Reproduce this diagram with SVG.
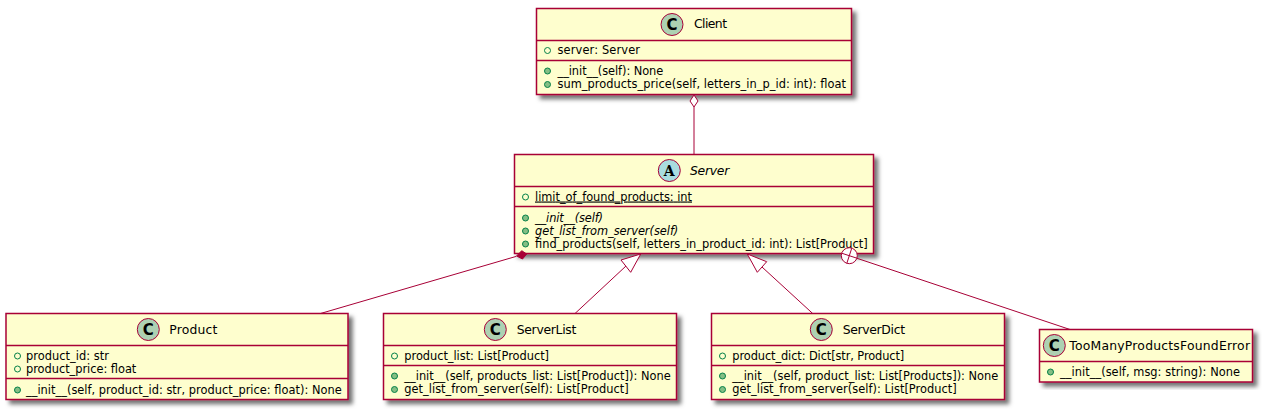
<svg xmlns="http://www.w3.org/2000/svg" width="1262" height="409" viewBox="0 0 1262 409">
<style>
text{font-family:"DejaVu Sans",sans-serif;fill:#000}
.m{font-size:11.400px}
.t{font-size:12.400px}
.i{font-style:italic}
.u{text-decoration:underline}
.b{fill:#FEFECE;stroke:#A80036;stroke-width:1.5;filter:url(#s)}
.d{stroke:#A80036;stroke-width:1.5;fill:none}
.c{fill:#ADD1B2;stroke:#A80036;stroke-width:1}
.a{fill:#A9DCDF;stroke:#A80036;stroke-width:1}
.f{fill:none;stroke:#038048;stroke-width:1}
.o{fill:#84BE84;stroke:#038048;stroke-width:1}
.l{stroke:#A80036;stroke-width:1;fill:none}
.w{stroke:#A80036;stroke-width:1;fill:#fff}
.k{stroke:#A80036;stroke-width:1;fill:#A80036}
.g{font-family:"DejaVu Sans",sans-serif;font-size:15px;font-weight:bold}
.h{font-family:"DejaVu Serif",serif;font-size:14px;font-weight:bold}
</style>
<defs>
<filter id="s" x="-5%" y="-10%" width="112%" height="125%"><feDropShadow dx="4" dy="4" stdDeviation="2" flood-color="#000" flood-opacity="0.55"/></filter>
</defs>
<g id="Client">
<rect class="b" x="536.500" y="8.500" width="315" height="86"/>
<path class="d" d="M536.500 40.500H851.500M536.500 60.500H851.500"/>
<circle class="c" cx="672" cy="24.500" r="11"/>
<text class="g" x="672" y="30" text-anchor="middle">C</text>
<text class="t" x="694" y="28" textLength="33">Client</text>
<circle class="f" cx="547.500" cy="50.500" r="3"/>
<text class="m" x="557.500" y="54" textLength="82.500">server: Server</text>
<circle class="o" cx="547.500" cy="71" r="3"/>
<text class="m" x="557.500" y="75" textLength="105.800">__init__(self): None</text>
<circle class="o" cx="547.500" cy="84.500" r="3"/>
<text class="m" x="557.500" y="88" textLength="288.500">sum_products_price(self, letters_in_p_id: int): float</text>
</g>
<g id="Server">
<rect class="b" x="514.500" y="154.500" width="359" height="99"/>
<path class="d" d="M514.500 186.500H873.500M514.500 206.500H873.500"/>
<circle class="a" cx="669.300" cy="170.500" r="11"/>
<text class="h" x="669.300" y="175.500" text-anchor="middle">A</text>
<text class="t i" x="690" y="174.500" textLength="39.300">Server</text>
<circle class="f" cx="525.500" cy="197" r="3"/>
<text class="m u" x="535" y="200.500" textLength="157">limit_of_found_products: int</text>
<circle class="o" cx="525.500" cy="218" r="3"/>
<text class="m i" x="535" y="221.500" textLength="68">__init__(self)</text>
<circle class="o" cx="525.500" cy="231" r="3"/>
<text class="m i" x="535" y="234.500" textLength="143.300">get_list_from_server(self)</text>
<circle class="o" cx="525.500" cy="244" r="3"/>
<text class="m" x="535" y="247.500" textLength="332.700">find_products(self, letters_in_product_id: int): List[Product]</text>
</g>
<g id="Product">
<rect class="b" x="6" y="313.500" width="342" height="86"/>
<path class="d" d="M6 345.500H348M6 378.500H348"/>
<circle class="c" cx="148.300" cy="329.500" r="11"/>
<text class="g" x="148.300" y="335" text-anchor="middle">C</text>
<text class="t" x="169.300" y="333.500" textLength="48">Product</text>
<circle class="f" cx="17.500" cy="356" r="3"/>
<text class="m" x="26" y="359.500" textLength="83">product_id: str</text>
<circle class="f" cx="17.500" cy="369" r="3"/>
<text class="m" x="26" y="372.500" textLength="110.300">product_price: float</text>
<circle class="o" cx="17.500" cy="390" r="3"/>
<text class="m" x="26" y="393.500" textLength="315.700">__init__(self, product_id: str, product_price: float): None</text>
</g>
<g id="ServerList">
<rect class="b" x="383.500" y="313.500" width="293" height="86"/>
<path class="d" d="M383.500 345.500H676.500M383.500 365.500H676.500"/>
<circle class="c" cx="495.300" cy="329.500" r="11"/>
<text class="g" x="495.300" y="335" text-anchor="middle">C</text>
<text class="t" x="516.700" y="333.500" textLength="59.600">ServerList</text>
<circle class="f" cx="394.500" cy="356" r="3"/>
<text class="m" x="404.300" y="359.500" textLength="144.700">product_list: List[Product]</text>
<circle class="o" cx="394.500" cy="376" r="3"/>
<text class="m" x="404.300" y="380" textLength="266.400">__init__(self, products_list: List[Product]): None</text>
<circle class="o" cx="394.500" cy="389.500" r="3"/>
<text class="m" x="404.300" y="393" textLength="224.400">get_list_from_server(self): List[Product]</text>
</g>
<g id="ServerDict">
<rect class="b" x="711.500" y="313.500" width="293" height="86"/>
<path class="d" d="M711.500 345.500H1004.500M711.500 365.500H1004.500"/>
<circle class="c" cx="821.300" cy="329.500" r="11"/>
<text class="g" x="821.300" y="335" text-anchor="middle">C</text>
<text class="t" x="842.700" y="333.500" textLength="62.300">ServerDict</text>
<circle class="f" cx="722.500" cy="356" r="3"/>
<text class="m" x="732.300" y="359.500" textLength="172">product_dict: Dict[str, Product]</text>
<circle class="o" cx="722.500" cy="376" r="3"/>
<text class="m" x="732.300" y="380" textLength="266">__init__(self, product_list: List[Products]): None</text>
<circle class="o" cx="722.500" cy="389.500" r="3"/>
<text class="m" x="732.300" y="393" textLength="224.400">get_list_from_server(self): List[Product]</text>
</g>
<g id="TooManyProductsFoundError">
<rect class="b" x="1039.500" y="329.500" width="213" height="52.500"/>
<path class="d" d="M1039.500 361.500H1252.500"/>
<circle class="c" cx="1054.300" cy="345.500" r="11"/>
<text class="g" x="1054.300" y="351" text-anchor="middle">C</text>
<text class="t" x="1069.300" y="349.500" textLength="180.700">TooManyProductsFoundError</text>
<circle class="o" cx="1050.500" cy="372" r="3"/>
<text class="m" x="1060" y="375.500" textLength="180">__init__(self, msg: string): None</text>
</g>
<g id="connectors">
<path class="l" d="M694 107V154.500"/>
<path class="w" d="M694 95L690 101L694 107L698 101Z"/>
<path class="l" d="M516.500 256.300L320.500 313.500"/>
<path class="k" d="M526.700 254L521.700 250.700L516.700 256L522.500 259Z"/>
<path class="l" d="M626 266L575 313.500"/>
<path class="w" d="M640.700 254L621 260L630.700 272.300Z"/>
<path class="l" d="M762 267L812.700 313.500"/>
<path class="w" d="M747.300 254L757.300 272.300L766.700 261.700Z"/>
<path class="l" d="M857 258.300L1070 329.500"/>
<g class="l"><circle cx="849.300" cy="255.700" r="8" fill="#fff"/><path d="M841.700 253.200L856.900 258.200M851.800 248.100L846.800 263.300"/></g>
</g>
</svg>
